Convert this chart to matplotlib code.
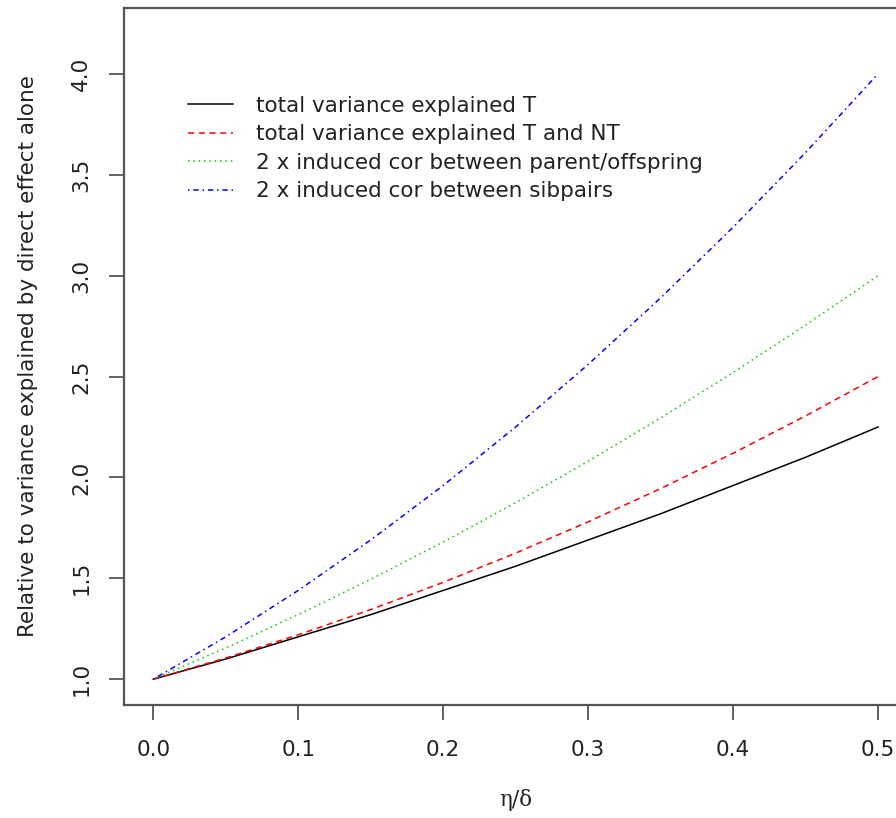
import matplotlib
matplotlib.use("Agg")
import matplotlib.pyplot as plt

plt.rcParams['font.family'] = ['DejaVu Sans']

# values at steps of 0.05
eta_delta = [0.0, 0.05, 0.1, 0.15, 0.2, 0.25, 0.3, 0.35, 0.4, 0.45, 0.5]
var_T = [1.0, 1.10, 1.21, 1.32, 1.44, 1.56, 1.69, 1.82, 1.96, 2.10, 2.25]
var_T_NT = [1.0, 1.105, 1.22, 1.345, 1.48, 1.625, 1.78, 1.945, 2.12, 2.305, 2.5]
cor_parent = [1.0, 1.155, 1.32, 1.495, 1.68, 1.875, 2.08, 2.295, 2.52, 2.755, 3.0]
cor_sib = [1.0, 1.21, 1.44, 1.69, 1.96, 2.25, 2.56, 2.89, 3.24, 3.61, 4.0]

labels = ["total variance explained T",
          "total variance explained T and NT",
          "2 x induced cor between parent/offspring",
          "2 x induced cor between sibpairs"]
xticks = [0.0, 0.1, 0.2, 0.3, 0.4, 0.5]
yticks = [1.0, 1.5, 2.0, 2.5, 3.0, 3.5, 4.0]

fs = 15.5
txt = '#222222'

fig = plt.figure(figsize=(8.96, 8.18), dpi=100)
ax = fig.add_axes([0.1387, 0.1381, 0.8736, 0.8524])

lw = 1.1
ax.plot(eta_delta, var_T, color='black', lw=lw, label=labels[0])
ax.plot(eta_delta, var_T_NT, color='#ff0000', lw=lw, dashes=(4, 3), label=labels[1])
ax.plot(eta_delta, cor_parent, color='#00cd00', lw=lw, dashes=(1, 2.5), label=labels[2])
ax.plot(eta_delta, cor_sib, color='#0000ff', lw=lw, dashes=(1, 2.5, 3.5, 2.5), label=labels[3])

ax.set_xlim(-0.02, 0.52)
ax.set_ylim(0.872, 4.328)

for s in ax.spines.values():
    s.set_color('#555555')
    s.set_linewidth(1.6)

ax.set_xticks(xticks)
ax.set_xticklabels([f"{v:.1f}" for v in xticks])
ax.set_yticks(yticks)
ax.set_yticklabels([f"{v:.1f}" for v in yticks], rotation=90, va='center')
ax.tick_params(axis='both', direction='out', length=10.8, width=1.3, color='#555555',
               labelsize=fs, labelcolor=txt)
ax.tick_params(axis='x', pad=14.5)
ax.tick_params(axis='y', pad=13)

ax.set_xlabel("\u03b7/\u03b4", fontsize=fs, labelpad=21, family=['DejaVu Serif'], color=txt)
ax.set_ylabel("Relative to variance explained by direct effect alone", fontsize=fs,
              labelpad=24, color=txt)

leg = ax.legend(loc='upper left', bbox_to_anchor=(0.0814, 0.874), frameon=False,
                fontsize=fs, handlelength=2.1, handletextpad=1.07, labelspacing=0.40,
                borderpad=0, borderaxespad=0)
for t in leg.get_texts():
    t.set_color(txt)

fig.savefig("out.png", dpi=100)
